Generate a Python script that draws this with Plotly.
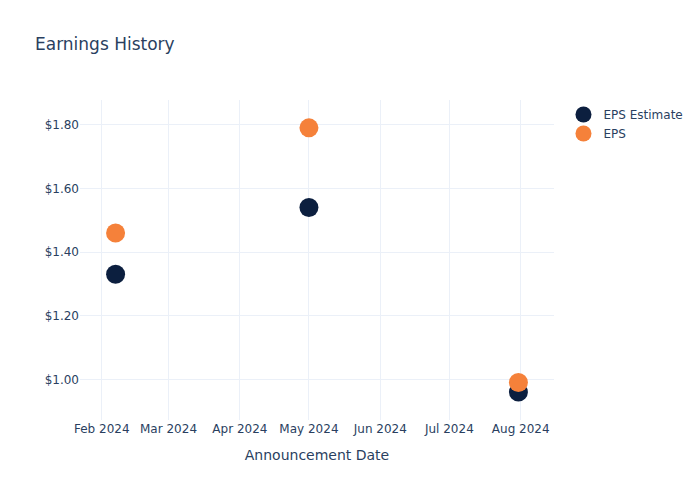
import plotly.graph_objects as go

dates = ["2024-02-07", "2024-05-01", "2024-07-31"]
eps_estimate = [1.33, 1.54, 0.96]
eps_actual = [1.46, 1.79, 0.99]

fig = go.Figure()
fig.add_trace(go.Scatter(x=dates, y=eps_estimate, mode="markers", name="EPS Estimate",
                         marker=dict(color="#0c1f3f", size=19)))
fig.add_trace(go.Scatter(x=dates, y=eps_actual, mode="markers", name="EPS",
                         marker=dict(color="#f5813a", size=19)))
fig.update_layout(
    template="plotly_white",
    width=700, height=500,
    font=dict(family="DejaVu Sans"),
    title=dict(text="Earnings History"),
    xaxis=dict(title=dict(text="Announcement Date"), dtick="M1", tickformat="%b %Y"),
    yaxis=dict(tickprefix="$", tickformat=".2f"),
)
fig.write_html("out.html")
